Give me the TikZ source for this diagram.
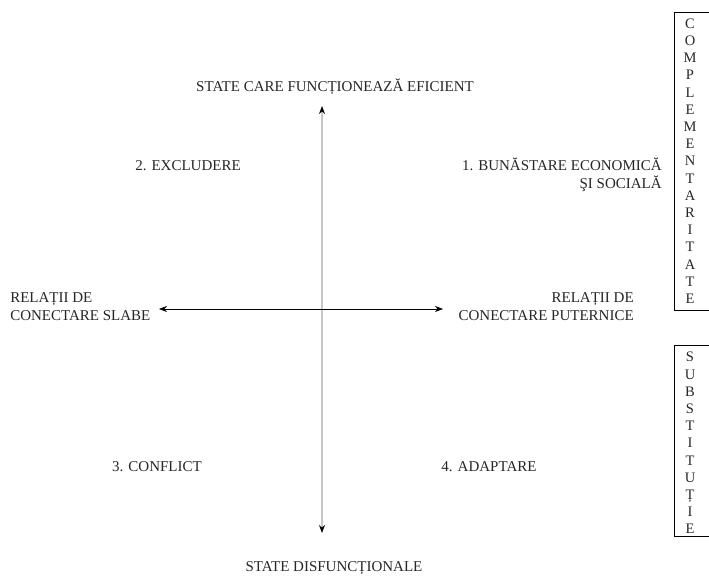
\documentclass[tikz,border=0pt]{standalone}
\usepackage{fontspec}
\setmainfont{Liberation Serif}
\usetikzlibrary{arrows.meta}

\begin{document}
\begin{tikzpicture}[x=1pt,y=-1pt,>={Stealth[length=8pt,width=6pt]},semithick,
                    font=\fontsize{15}{18}\selectfont]
  \tikzstyle{every node}=[inner sep=0pt,text=black!85]
  \tikzstyle{letters}=[align=center,font=\fontsize{14.5}{17.2}\selectfont]

  \useasboundingbox (0,0) rectangle (709,577);

  % axis ends
  \coordinate (top)    at (322,106);
  \coordinate (bottom) at (322,533);
  \coordinate (west)   at (159,309);
  \coordinate (east)   at (443,309);

  \node (efficient)    at (335,87)  {STATE CARE FUNCȚIONEAZĂ EFICIENT};
  \node (dysfunct)     at (334,568) {STATE DISFUNCȚIONALE};
  \node[align=left,anchor=west]  (weak)   at (10,307)  {RELAȚII DE\\CONECTARE SLABE};
  \node[align=right,anchor=east] (strong) at (634,307) {RELAȚII DE\\CONECTARE PUTERNICE};

  \node (q2) at (188,166) {2. EXCLUDERE};
  \node[align=right,anchor=east] (q1) at (662,175) {1. BUNĂSTARE ECONOMICĂ\\ŞI SOCIALĂ};
  \node (q3) at (157,467) {3. CONFLICT};
  \node (q4) at (489,467) {4. ADAPTARE};

  % side boxes
  \draw[thin] (674,12) rectangle (715,310);
  \node[letters] (compl) at (690,161)
    {C\\O\\M\\P\\L\\E\\M\\E\\N\\T\\A\\R\\I\\T\\A\\T\\E};
  \draw[thin] (674,345) rectangle (715,536);
  \node[letters] (subst) at (690,443)
    {S\\U\\B\\S\\T\\I\\T\\U\\Ț\\I\\E};

  \draw[gray!45,line width=2.6pt,{Stealth[black,length=8pt,width=6pt]}-{Stealth[black,length=8pt,width=6pt]}]
    (top) -- (bottom);
  \draw[<->] (west) -- (east);

\end{tikzpicture}
\end{document}
